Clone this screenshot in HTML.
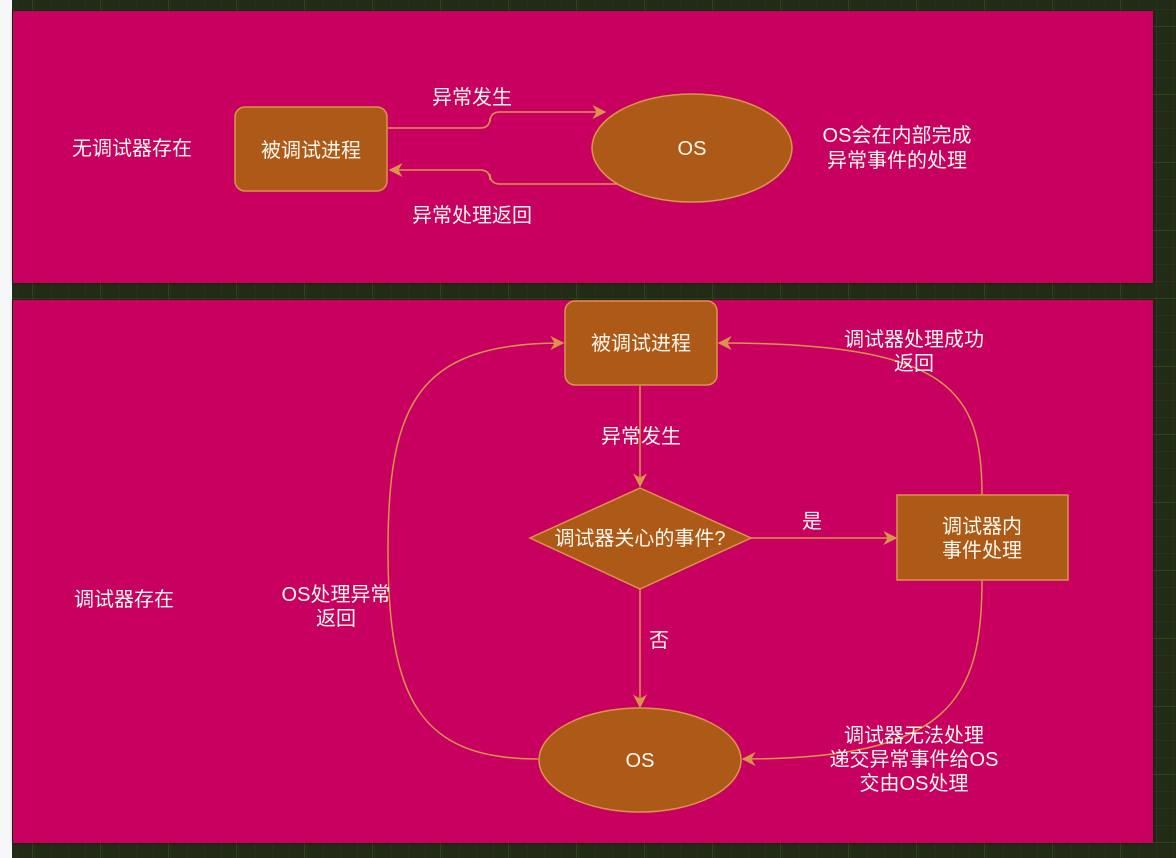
<!DOCTYPE html>
<html><head><meta charset="utf-8"><style>
body{margin:0;width:1176px;height:858px;overflow:hidden;background:#222b15}
svg{display:block}
text{font-family:"Liberation Sans","Noto Sans CJK SC",sans-serif;font-size:20px;fill:#fff8ee;text-anchor:middle}
</style></head><body>
<svg width="1176" height="858" viewBox="0 0 1176 858">
<defs>
<pattern id="g" width="17" height="17" patternUnits="userSpaceOnUse" x="0" y="9">
<path d="M0 0H17M0 0V17" stroke="#2e3a1f" stroke-width="1" fill="none"/>
</pattern>
<pattern id="G" width="68" height="68" patternUnits="userSpaceOnUse" x="32" y="26">
<path d="M0 0H68M0 0V68" stroke="#3f5a1e" stroke-width="1" fill="none"/>
</pattern>
<marker id="a" viewBox="0 0 10 10" refX="9" refY="5" markerWidth="14" markerHeight="14" markerUnits="userSpaceOnUse" orient="auto">
<path d="M0 0L10 5L0 10L3 5Z" fill="#d9954a"/>
</marker>
<filter id="s"><feDropShadow dx="0" dy="0" stdDeviation="1.5" flood-color="#000" flood-opacity="0.5"/></filter>
</defs>
<rect width="1176" height="858" fill="url(#g)"/>
<rect width="1176" height="858" fill="url(#G)"/>
<rect x="0" y="0" width="12" height="858" fill="#f5f7f9"/>
<rect x="13" y="11" width="1140" height="272" fill="#c8005f" filter="url(#s)"/>
<rect x="13" y="300" width="1140" height="543" fill="#c8005f" filter="url(#s)"/>

<g stroke="#d9954a" stroke-width="1.5" fill="none">
<path d="M388 128H480Q490 128 490 118V122Q490 112 500 112H605" marker-end="url(#a)"/>
<path d="M620 184H500Q490 184 490 174V180Q490 170 480 170H390" marker-end="url(#a)"/>
<path d="M640 386V486" marker-end="url(#a)"/>
<path d="M751 538H896" marker-end="url(#a)"/>
<path d="M640 589V707" marker-end="url(#a)"/>
<path d="M538 759C420 759 388 700 388 550C388 400 420 343 563 343" marker-end="url(#a)"/>
<path d="M982 495C982 390 950 343 719 343" marker-end="url(#a)"/>
<path d="M982 580C982 700 950 759 743 759" marker-end="url(#a)"/>
</g>

<g fill="#ad5a18" stroke="#d9954a" stroke-width="1.5">
<rect x="235" y="107" width="152" height="84" rx="10"/>
<ellipse cx="692" cy="148" rx="100" ry="54"/>
<rect x="565" y="301" width="152" height="84" rx="10"/>
<path d="M640 488L751 538L640 589L530 538Z"/>
<rect x="897" y="495" width="171" height="85"/>
<ellipse cx="640" cy="760" rx="101" ry="52"/>
</g>

<text x="132" y="155">无调试器存在</text>
<text x="311" y="157">被调试进程</text>
<text x="692" y="155">OS</text>
<text x="472" y="104">异常发生</text>
<text x="472" y="222">异常处理返回</text>
<text x="897" y="142">OS会在内部完成</text>
<text x="897" y="167">异常事件的处理</text>

<text x="124" y="606">调试器存在</text>
<text x="641" y="350">被调试进程</text>
<text x="641" y="443">异常发生</text>
<text x="640" y="545">调试器关心的事件?</text>
<text x="812" y="528">是</text>
<text x="982" y="533">调试器内</text>
<text x="982" y="557">事件处理</text>
<text x="659" y="647">否</text>
<text x="640" y="767">OS</text>
<text x="336" y="601">OS处理异常</text>
<text x="336" y="625">返回</text>
<text x="914" y="346">调试器处理成功</text>
<text x="914" y="370">返回</text>
<text x="914" y="742">调试器无法处理</text>
<text x="914" y="766">递交异常事件给OS</text>
<text x="914" y="790">交由OS处理</text>
</svg>
</body></html>
